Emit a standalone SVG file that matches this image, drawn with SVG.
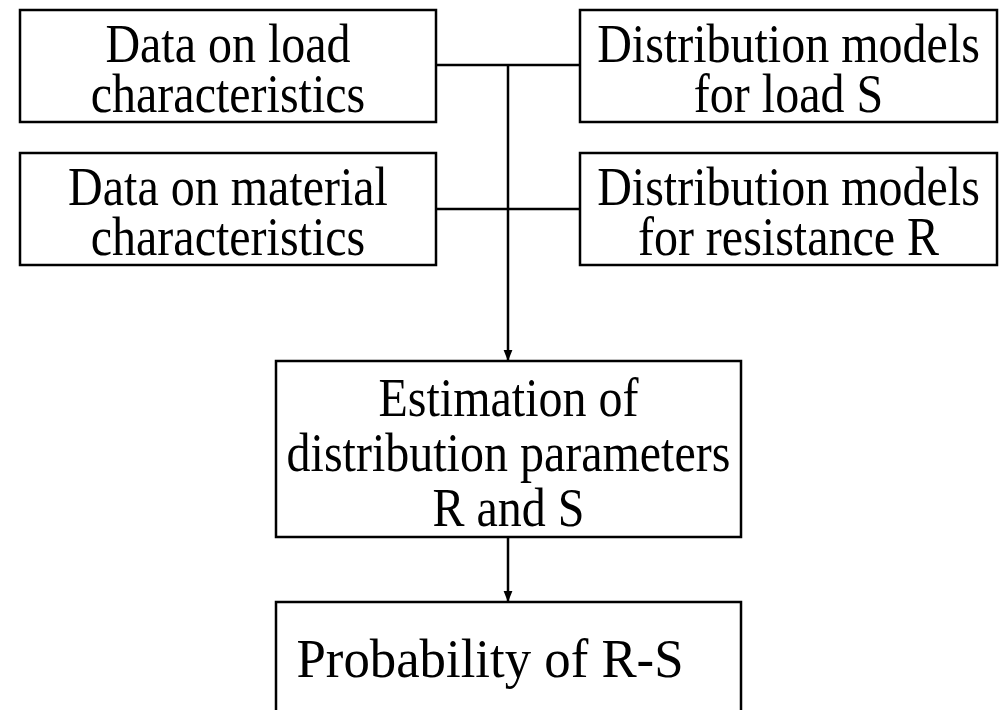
<svg xmlns="http://www.w3.org/2000/svg" width="1004" height="710" viewBox="0 0 1004 710">
<style>
.box{fill:#fff;stroke:#000;stroke-width:2.5}
.t{font-family:"Liberation Serif","Times New Roman",serif;font-size:48px;fill:#000;text-anchor:middle}
.ln{stroke:#000;stroke-width:2.5;fill:none}
</style>
<defs>
<marker id="ah" viewBox="0 0 10 10" refX="10" refY="5" markerWidth="11" markerHeight="11" markerUnits="userSpaceOnUse" orient="auto">
<path d="M0,1 L10,5 L0,9 Z" fill="#000"/>
</marker>
</defs>
<rect width="1004" height="710" fill="#fff"/>
<g id="connectors">
<line class="ln" x1="436" y1="65" x2="580" y2="65"/>
<line class="ln" x1="436" y1="209" x2="580" y2="209"/>
<line class="ln" x1="508" y1="65" x2="508" y2="361" marker-end="url(#ah)"/>
<line class="ln" x1="508" y1="537" x2="508" y2="602" marker-end="url(#ah)"/>
</g>
<g id="load-data">
<rect class="box" x="20" y="10" width="416" height="112"/>
<text class="t" transform="translate(228,62) scale(1,1.15)">Data on load</text>
<text class="t" transform="translate(228,112) scale(1,1.15)">characteristics</text>
</g>
<g id="load-model">
<rect class="box" x="580" y="10" width="417" height="112"/>
<text class="t" transform="translate(788.5,62) scale(1,1.15)">Distribution models</text>
<text class="t" transform="translate(788.5,112) scale(1,1.15)">for load S</text>
</g>
<g id="material-data">
<rect class="box" x="20" y="153" width="416" height="112"/>
<text class="t" transform="translate(228,205) scale(1,1.15)">Data on material</text>
<text class="t" transform="translate(228,255) scale(1,1.15)">characteristics</text>
</g>
<g id="resistance-model">
<rect class="box" x="580" y="153" width="417" height="112"/>
<text class="t" transform="translate(788.5,205) scale(1,1.15)">Distribution models</text>
<text class="t" transform="translate(788.5,255) scale(1,1.15)">for resistance R</text>
</g>
<g id="estimation">
<rect class="box" x="276" y="361" width="465" height="176"/>
<text class="t" transform="translate(508.5,416) scale(1,1.15)">Estimation of</text>
<text class="t" transform="translate(508.5,471) scale(1,1.15)">distribution parameters</text>
<text class="t" transform="translate(508.5,526) scale(1,1.15)">R and S</text>
</g>
<g id="probability">
<rect class="box" x="276" y="602" width="465" height="120"/>
<text class="t" transform="translate(490,677) scale(1.1,1.15)">Probability of R-S</text>
</g>
</svg>
